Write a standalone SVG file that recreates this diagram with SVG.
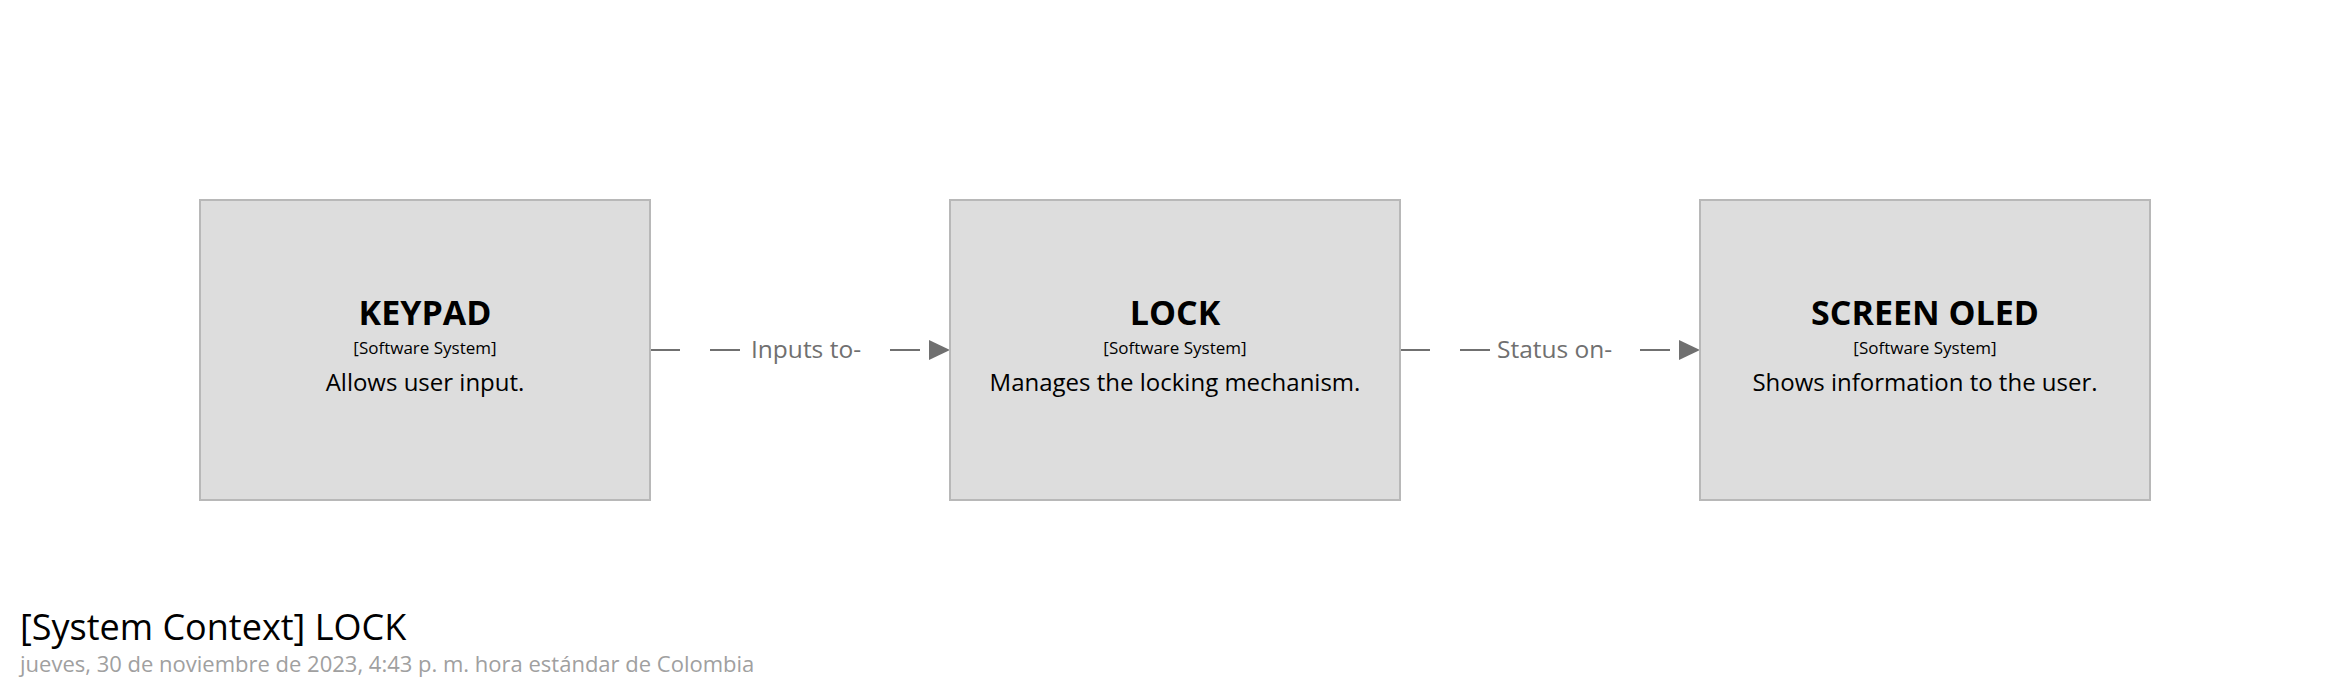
<svg xmlns="http://www.w3.org/2000/svg" width="2350" height="700" viewBox="0 0 2350 700">
<style>
text{font-family:"Open Sans","Noto Sans","Liberation Sans",sans-serif}
.box{fill:#dddddd;stroke:#b8b8b8;stroke-width:2}
.name{font-size:34px;font-weight:bold;fill:#000;text-anchor:middle}
.type{font-size:17px;fill:#000;text-anchor:middle}
.desc{font-size:24px;fill:#000;text-anchor:middle}
.edge{stroke:#707070;stroke-width:2;stroke-dasharray:30 30;fill:none}
.lbl{font-size:24.5px;fill:#707070}
.head{fill:#707070}
</style>
<rect width="2350" height="700" fill="#fff"/>
<g id="connectors">
<line class="edge" x1="650" y1="350" x2="929" y2="350"/>
<rect x="745" y="330" width="121" height="40" fill="#fff"/>
<text class="lbl" x="751" y="358">Inputs to-</text>
<polygon class="head" points="929,340 950,350 929,360"/>
<line class="edge" x1="1400" y1="350" x2="1679" y2="350"/>
<rect x="1494" y="330" width="122" height="40" fill="#fff"/>
<text class="lbl" x="1497" y="358">Status on-</text>
<polygon class="head" points="1679,340 1700,350 1679,360"/>
</g>
<g id="keypad">
<rect class="box" x="200" y="200" width="450" height="300"/>
<text class="name" x="425" y="325">KEYPAD</text>
<text class="type" x="425" y="354">[Software System]</text>
<text class="desc" x="425" y="391">Allows user input.</text>
</g>
<g id="lock">
<rect class="box" x="950" y="200" width="450" height="300"/>
<text class="name" x="1175" y="325">LOCK</text>
<text class="type" x="1175" y="354">[Software System]</text>
<text class="desc" x="1175" y="391">Manages the locking mechanism.</text>
</g>
<g id="screen">
<rect class="box" x="1700" y="200" width="450" height="300"/>
<text class="name" x="1925" y="325">SCREEN OLED</text>
<text class="type" x="1925" y="354">[Software System]</text>
<text class="desc" x="1925" y="391">Shows information to the user.</text>
</g>
<g id="title">
<text x="20" y="640" font-size="36" fill="#000">[System Context] LOCK</text>
<text x="20" y="672" font-size="22" fill="#a0a0a0">jueves, 30 de noviembre de 2023, 4:43 p. m. hora estándar de Colombia</text>
</g>
</svg>
